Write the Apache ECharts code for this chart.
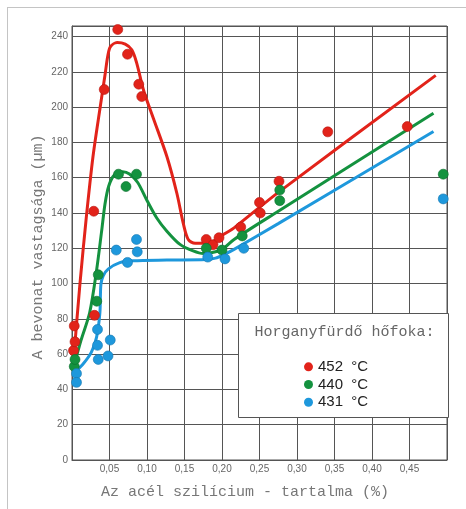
<!DOCTYPE html>
<html><head><meta charset="utf-8">
<script src="https://cdn.jsdelivr.net/npm/echarts@6/dist/echarts.min.js"></script>
<style>html,body{margin:0;padding:0;background:#fff}#c{width:466px;height:509px}</style>
</head><body><div id="c"></div>
<script>
// ---- tick labels ----
const xTickLabels = ['0,05','0,10','0,15','0,20','0,25','0,30','0,35','0,40','0,45'];
const yTickLabels = ['0','20','40','60','80','100','120','140','160','180','200','220','240'];

// ---- measured points (Si content %, coating thickness µm) ----
const si452 = [0.002,0.003,0.004,0.029,0.030,0.043,0.061,0.074,0.089,0.093,0.179,0.188,0.196,0.225,0.250,0.251,0.276,0.341,0.447];
const thk452 = [62,76,67,141,82,210,244,230,213,206,125,122,126,132,146,140,158,186,189];

const si440 = [0.003,0.004,0.033,0.035,0.062,0.072,0.086,0.179,0.200,0.227,0.277,0.277,0.495];
const thk440 = [53,57,90,105,162,155,162,120,119,127,153,147,162];

const si431 = [0.006,0.006,0.034,0.034,0.035,0.048,0.051,0.059,0.074,0.086,0.087,0.181,0.204,0.229,0.495];
const thk431 = [49,44,74,65,57,59,68,119,112,125,118,115,114,120,148];

// ---- fitted curves ----
const curveSi452 = [0.002,0.0105,0.019,0.028,0.0377,0.044,0.0477,0.0513,0.0602,0.071,0.0797,0.086,0.0956,0.1088,0.1265,0.1398,0.1487,0.155,0.1642,0.179,0.189,0.2034,0.2161,0.276,0.485];
const curveThk452 = [56,99.4,137.2,172,200.4,218.2,229,234.3,236.6,235.7,232.5,225.4,209.3,193.3,172,151.2,133.5,125,122.8,122.8,124.1,128.2,131.6,152,218];

const curveSi440 = [0.002,0.012,0.0236,0.0327,0.0395,0.044,0.049,0.0566,0.0677,0.0766,0.0876,0.100,0.113,0.1265,0.144,0.1615,0.175,0.187,0.200,0.2161,0.275,0.482];
const curveThk440 = [52.4,67.8,83.6,107.3,129.7,145.1,155.3,161.6,163.4,162.1,157.3,147.1,137.2,129.7,122.2,118.5,117,117.6,119.4,125,141,196.6];

const curveSi431 = [0.003,0.0145,0.0257,0.0327,0.0372,0.0385,0.0416,0.0482,0.0637,0.0814,0.1265,0.1788,0.1913,0.2034,0.2161,0.275,0.482];
const curveThk431 = [49.5,54.3,61,69.5,83.6,99.4,104.4,108.2,111.9,112.9,113.3,113.6,114.4,116.6,119.4,134,186.2];

const names = ['452  °C','440  °C','431  °C'];
const colors = ['#e2231a','#14923f','#1e98dc'];
const borders = ['#b81812','#0c6e2e','#1577b0'];

const zip = (a,b) => a.map((v,i)=>[v,b[i]]);
const pts = [zip(si452,thk452), zip(si440,thk440), zip(si431,thk431)];
const curves = [zip(curveSi452,curveThk452), zip(curveSi440,curveThk440), zip(curveSi431,curveThk431)];

const series = [];
curves.forEach((c,i)=>series.push({
  type:'line', name: names[i]+' görbe', data:c, smooth:0.3, showSymbol:false, symbol:'none',
  lineStyle:{color:colors[i], width:3}, itemStyle:{color:colors[i]}, z:2, silent:true
}));
pts.forEach((p,i)=>series.push({
  type:'scatter', name: names[i], data:p, symbolSize:10,
  itemStyle:{color:colors[i], borderColor:borders[i], borderWidth:0.6, opacity:1}, z:3
}));

const chart = echarts.init(document.getElementById('c'), null, {renderer:'canvas'});
chart.setOption({
  backgroundColor:'#fff',
  animation:false,
  grid:{left:72, top:26, width:375, height:434, show:true, borderColor:'#555', borderWidth:1, backgroundColor:'transparent'},
  xAxis:{
    type:'value', min:0, max:0.5, interval:0.05,
    name:'Az acél szilícium - tartalma (%)', nameLocation:'middle', nameGap:25, nameMoveOverlap:false,
    nameTextStyle:{fontFamily:'Liberation Mono', fontSize:15, color:'#777', padding:[0,29,0,0]},
    axisLine:{show:true, lineStyle:{color:'#555', width:1}},
    axisTick:{show:false},
    splitLine:{show:true, lineStyle:{color:'#555', width:1}},
    axisLabel:{fontFamily:'Liberation Sans', fontSize:10, color:'#666', margin:4,
      formatter:(v)=>{const k=Math.round(v/0.05); return (k>=1&&k<=9)?xTickLabels[k-1]:'';}}
  },
  yAxis:{
    type:'value', min:0, max:246, interval:20,
    name:'A bevonat vastagsága (µm)', nameLocation:'middle', nameGap:26, nameRotate:90, nameMoveOverlap:false,
    nameTextStyle:{fontFamily:'Liberation Mono', fontSize:15, color:'#777', padding:[0,8,0,0]},
    axisLine:{show:true, lineStyle:{color:'#555', width:1}},
    axisTick:{show:false},
    splitLine:{show:true, lineStyle:{color:'#555', width:1}},
    axisLabel:{fontFamily:'Liberation Sans', fontSize:10, color:'#666', margin:4, showMaxLabel:false,
      formatter:(v)=>{const k=Math.round(v/20); return (Math.abs(v-k*20)<1e-6 && k<yTickLabels.length)?yTickLabels[k]:'';}}
  },
  legend:{
    data:names, orient:'vertical', left:304, top:358, padding:0, icon:'circle', itemWidth:9, itemHeight:9, itemGap:0,
    itemStyle:{borderWidth:0},
    textStyle:{fontFamily:'Liberation Sans', fontSize:15, color:'#222', lineHeight:17.7},
    selectedMode:false, z:6
  },
  graphic:[
    {type:'line', shape:{x1:7, y1:7.5, x2:466, y2:7.5}, style:{stroke:'#c4c4c4', lineWidth:1}, z:1},
    {type:'line', shape:{x1:7.5, y1:7, x2:7.5, y2:509}, style:{stroke:'#c4c4c4', lineWidth:1}, z:1},
    {type:'rect', shape:{x:238.5, y:313.5, width:210, height:104}, style:{fill:'#fff', stroke:'#555', lineWidth:1}, z:4},
    {type:'text', x:344.5, y:332, style:{text:'Horganyfürdő hőfoka:', font:'15px "Liberation Mono"', fill:'#666', textAlign:'center', textVerticalAlign:'middle'}, z:5}
  ],
  series: series
});
</script>
</body></html>
